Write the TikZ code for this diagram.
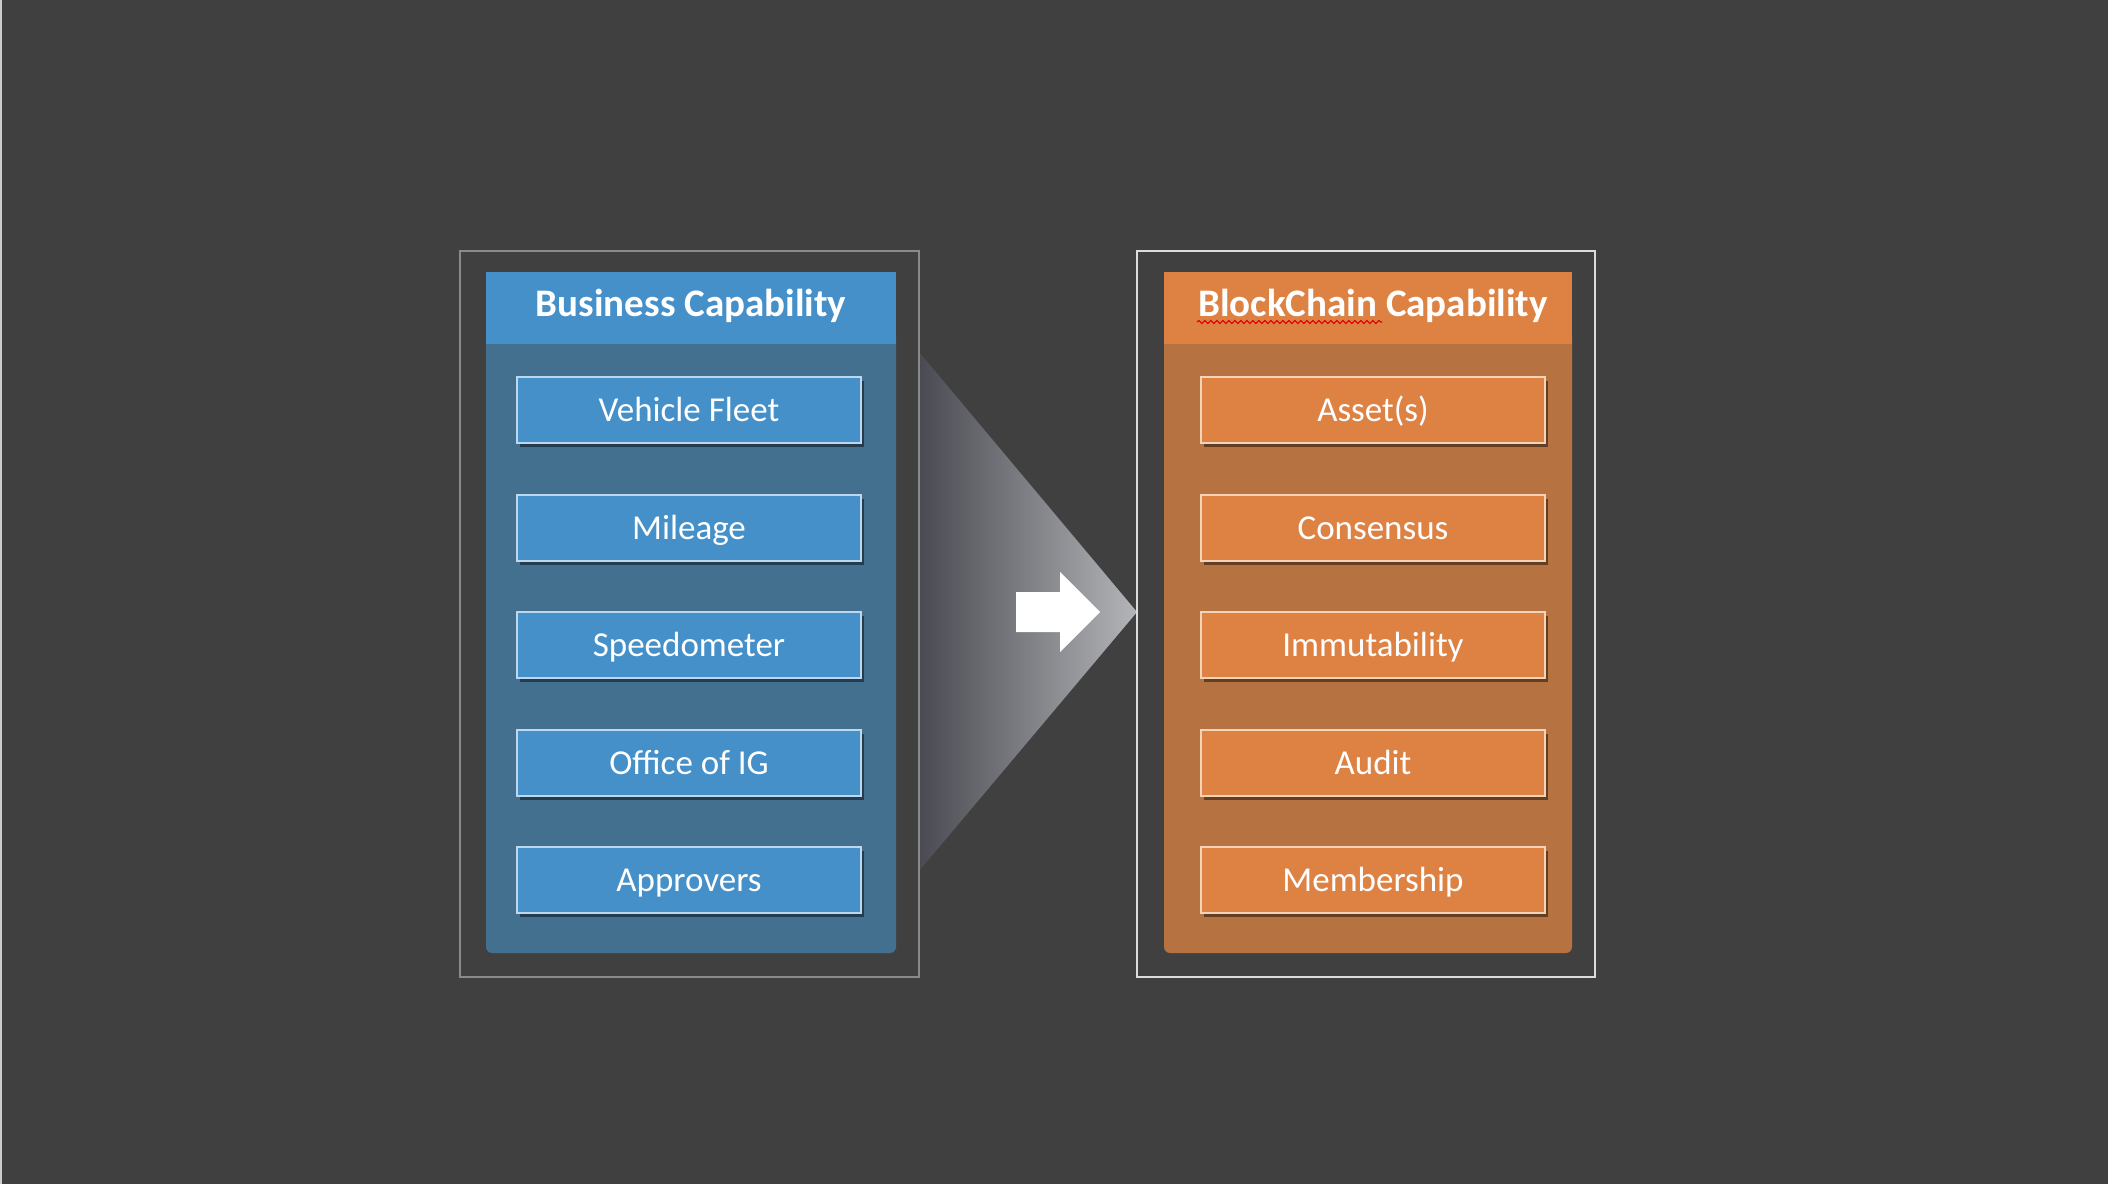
\documentclass[tikz,border=0pt]{standalone}
\usepackage{fontspec}
\setmainfont{Carlito}
\usetikzlibrary{shadows,decorations.pathmorphing}
\definecolor{bg}{HTML}{404040}
\definecolor{leftframe}{HTML}{8A8A8A}
\definecolor{rightframe}{HTML}{DCDCDC}
\definecolor{bizbody}{HTML}{43708F}
\definecolor{bizhead}{HTML}{4590C8}
\definecolor{bizline}{HTML}{BDD7EE}
\definecolor{bcbody}{HTML}{B77241}
\definecolor{bchead}{HTML}{DE8244}
\definecolor{bcline}{HTML}{F5D3B6}
\definecolor{funl}{HTML}{4A4B52}
\definecolor{funr}{HTML}{B3B5B8}
\tikzset{
  itembox/.style={minimum width=344pt, minimum height=66pt, line width=1.6pt, text=white,
    font=\fontsize{35}{40}\selectfont, inner sep=0pt, text height=26pt, text depth=4pt,
    drop shadow={shadow xshift=3pt, shadow yshift=-4pt, opacity=0.45, fill=black}},
  bizbox/.style={itembox, fill=bizhead, draw=bizline},
  bcbox/.style={itembox, fill=bchead, draw=bcline},
  headtext/.style={text=white, font=\fontsize{39}{44}\selectfont\bfseries, inner sep=0pt,
    text height=29pt, text depth=10pt},
}
\begin{document}
\begin{tikzpicture}[x=1pt,y=-1pt]
\fill[bg] (0,0) rectangle (2108,1184);
\useasboundingbox (0,0) rectangle (2108,1184);
\fill[gray!40] (0,0) rectangle (2,1184);
% funnel
\shade[left color=funl, right color=funr] (919,352) -- (1137,612) -- (919,871) -- cycle;
\fill[white] (1016,592) -- (1060,592) -- (1060,572) -- (1100,612) -- (1060,652) -- (1060,632) -- (1016,632) -- cycle;
% frames
\draw[leftframe, line width=1.8pt] (460,251) rectangle (919,977);
\draw[rightframe, line width=2pt] (1137,251) rectangle (1595,977);
% panels
\fill[bizbody, rounded corners=6pt] (486,330) -- (486,953) -- (896,953) -- (896,330) -- cycle;
\fill[bizhead] (486,272) rectangle (896,344);
\fill[bcbody, rounded corners=6pt] (1164,330) -- (1164,953) -- (1572,953) -- (1572,330) -- cycle;
\fill[bchead] (1164,272) rectangle (1572,344);
% headers
\node[headtext] (bh) at (691,307) {Business Capability};
\node[headtext] (ch) at (1373,307) {BlockChain Capability};
\draw[red!85!black, line width=1.1pt, decorate, decoration={snake, amplitude=1.5pt, segment length=6pt}] (1197,322) -- (1382,322);
% items
\node[bizbox] (b1) at (689,410) {Vehicle Fleet};
\node[bizbox] (b2) at (689,528) {Mileage};
\node[bizbox] (b3) at (689,645) {Speedometer};
\node[bizbox] (b4) at (689,763) {Office of IG};
\node[bizbox] (b5) at (689,880) {Approvers};
\node[bcbox] (c1) at (1373,410) {Asset(s)};
\node[bcbox] (c2) at (1373,528) {Consensus};
\node[bcbox] (c3) at (1373,645) {Immutability};
\node[bcbox] (c4) at (1373,763) {Audit};
\node[bcbox] (c5) at (1373,880) {Membership};
\end{tikzpicture}
\end{document}
